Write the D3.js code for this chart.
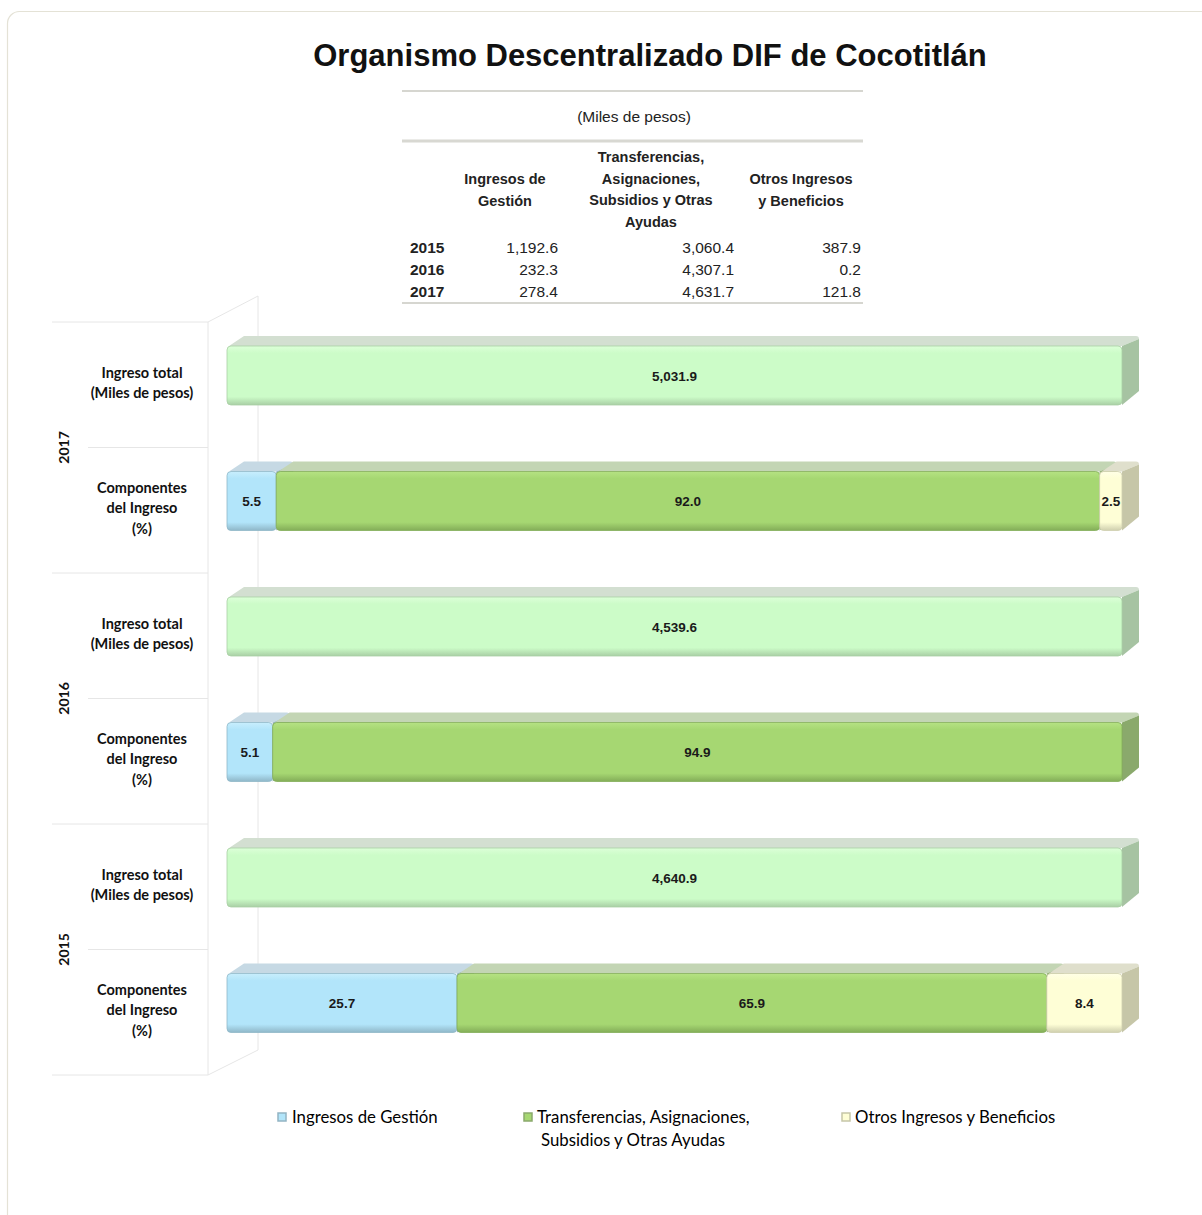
<!DOCTYPE html>
<html>
<head>
<meta charset="utf-8">
<script src="https://cdn.jsdelivr.net/npm/d3@7"></script>
<style>
  body { margin: 0; background: #fff; }
  svg { display: block; }
</style>
</head>
<body>
<svg id="chart" width="1202" height="1215"></svg>
<script>
// table data (miles de pesos)
const tableYears = ["2015", "2016", "2017"];
const gestion = [1192.6, 232.3, 278.4];
const transferencias = [3060.4, 4307.1, 4631.7];
const otros = [387.9, 0.2, 121.8];
const tableHeaders = [
  ["Ingresos de", "Gestión"],
  ["Transferencias,", "Asignaciones,", "Subsidios y Otras", "Ayudas"],
  ["Otros Ingresos", "y Beneficios"]
];

// bar data, top to bottom
const years = ["2017", "2016", "2015"];
const totals = [5031.9, 4539.6, 4640.9];
const gestionPct = [5.5, 5.1, 25.7];
const transfPct = [92.0, 94.9, 65.9];
const otrosPct = [2.5, 0.0, 8.4];

const rowTotal = ["Ingreso total", "(Miles de pesos)"];
const rowComp = ["Componentes", "del Ingreso", "(%)"];
const legendNames = [["Ingresos de Gestión"], ["Transferencias, Asignaciones,", "Subsidios y Otras Ayudas"], ["Otros Ingresos y Beneficios"]];

const svg = d3.select("#chart");
const labelFont = "Lato, 'Open Sans', sans-serif";
const arial = "'Liberation Sans', Arial, sans-serif";
const narrow = "'Liberation Sans Narrow', 'Liberation Sans', Arial, sans-serif";

// frame
svg.append("rect").attr("x", 7.5).attr("y", 11.5).attr("width", 1210).attr("height", 1215)
  .attr("rx", 12).attr("fill", "#fff").attr("stroke", "#e4e2d6").attr("stroke-width", 1.2);

svg.append("text").attr("x", 650).attr("y", 66).attr("text-anchor", "middle")
  .attr("font-family", arial).attr("font-weight", "bold").attr("font-size", 31).attr("fill", "#111")
  .text("Organismo Descentralizado DIF de Cocotitlán");

// ---- table ----
const tb = svg.append("g");
tb.append("line").attr("x1", 402).attr("x2", 863).attr("y1", 91).attr("y2", 91).attr("stroke", "#d6d6d0").attr("stroke-width", 2);
tb.append("line").attr("x1", 402).attr("x2", 863).attr("y1", 141).attr("y2", 141).attr("stroke", "#d8d8d2").attr("stroke-width", 3);
tb.append("line").attr("x1", 402).attr("x2", 863).attr("y1", 303).attr("y2", 303).attr("stroke", "#d6d6d0").attr("stroke-width", 2);
tb.append("text").attr("x", 634).attr("y", 122).attr("text-anchor", "middle")
  .attr("font-family", arial).attr("font-size", 15.5).attr("fill", "#222").text("(Miles de pesos)");

const colCenters = [505, 651, 801];
const colRights = [558, 734, 861];
tableHeaders.forEach((lines, i) => {
  lines.forEach((l, j) => {
    tb.append("text").attr("x", colCenters[i])
      .attr("y", (lines.length === 4 ? 162 : 184) + j * 21.5)
      .attr("text-anchor", "middle").attr("font-family", arial).attr("font-weight", "bold")
      .attr("font-size", 14.5).attr("fill", "#222").text(l);
  });
});
const fmt = d3.format(",.1f");
tableYears.forEach((yr, i) => {
  const y = 253 + i * 22;
  tb.append("text").attr("x", 410).attr("y", y).attr("font-family", arial).attr("font-weight", "bold")
    .attr("font-size", 15.5).attr("fill", "#222").text(yr);
  [gestion, transferencias, otros].forEach((arr, c) => {
    tb.append("text").attr("x", colRights[c]).attr("y", y).attr("text-anchor", "end")
      .attr("font-family", arial).attr("font-size", 15.5).attr("fill", "#222").text(fmt(arr[i]));
  });
});

// ---- chart ----
const rows = [];
years.forEach((yr, i) => {
  rows.push({ key: yr + "-t", year: yr, kind: "total", segs: [{ v: 100, c: "total", label: fmt(totals[i]) }] });
  rows.push({ key: yr + "-c", year: yr, kind: "comp", segs: [
    { v: gestionPct[i], c: "blue" }, { v: transfPct[i], c: "green" }, { v: otrosPct[i], c: "yellow" }
  ].map(s => ({ ...s, label: s.v > 0 ? s.v.toFixed(1) : "" })) });
});

const y = d3.scaleBand().domain(rows.map(r => r.key)).range([322, 1075]);
const x = d3.scaleLinear().domain([0, 100]).range([227, 1122]);
const barTop = 24, barH = 59, dx = 17, dy = 10;

const colors = {
  total: { front: "#ccfcc8", light: "#dcffd8", dark: "#a9cfa5", top: "#d3dfd1", side: "#a6c3a2" },
  blue: { front: "#b2e5fa", light: "#c8eefd", dark: "#8fb7c8", top: "#c6d9e4", side: "#93b4c3" },
  green: { front: "#a6d772", light: "#b5e283", dark: "#83ad58", top: "#c3d5b4", side: "#8aa96c" },
  yellow: { front: "#fefed6", light: "#ffffe6", dark: "#cfcfae", top: "#dfdfcc", side: "#c6c6a8" }
};

const defs = svg.append("defs");
Object.entries(colors).forEach(([k, c]) => {
  const g = defs.append("linearGradient").attr("id", "g-" + k).attr("x1", 0).attr("x2", 0).attr("y1", 0).attr("y2", 1);
  g.append("stop").attr("offset", "0%").attr("stop-color", c.light);
  g.append("stop").attr("offset", "12%").attr("stop-color", c.front);
  g.append("stop").attr("offset", "86%").attr("stop-color", c.front);
  g.append("stop").attr("offset", "100%").attr("stop-color", c.dark);
});

// wall and grid lines of the category axis
const grid = svg.append("g").attr("stroke", "#e6e6e6").attr("stroke-width", 1).attr("fill", "none");
grid.append("line").attr("x1", 258).attr("x2", 258).attr("y1", 296).attr("y2", 1050);
grid.append("line").attr("x1", 208).attr("x2", 208).attr("y1", 322).attr("y2", 1075);
grid.append("line").attr("x1", 208).attr("x2", 258).attr("y1", 322).attr("y2", 296);
grid.append("line").attr("x1", 208).attr("x2", 258).attr("y1", 1075).attr("y2", 1050);
rows.forEach(r => {
  const yy = y(r.key);
  grid.append("line").attr("x1", r.kind === "total" ? 52 : 88).attr("x2", 208).attr("y1", yy).attr("y2", yy);
});
grid.append("line").attr("x1", 52).attr("x2", 208).attr("y1", 1075).attr("y2", 1075);

// bars
const bars = svg.append("g");
rows.forEach(r => {
  let acc = 0;
  const y0 = y(r.key) + barTop, y1 = y0 + barH;
  r.segs.forEach(s => {
    if (s.v <= 0) return;
    const x0 = x(acc), x1 = x(acc + s.v);
    acc += s.v;
    const c = colors[s.c];
    const g = bars.append("g");
    g.append("path").attr("fill", c.top)
      .attr("d", `M${x0 + 2},${y0} L${x0 + dx},${y0 - dy} L${x1 + dx - 3},${y0 - dy} Q${x1 + dx},${y0 - dy} ${x1 + dx},${y0 - dy + 3} L${x1},${y0} Z`);
    g.append("path").attr("fill", c.side)
      .attr("d", `M${x1},${y0} L${x1 + dx},${y0 - dy + 3} L${x1 + dx},${y1 - dy - 4} L${x1},${y1} Z`);
    g.append("rect").attr("x", x0).attr("y", y0).attr("width", Math.max(0, x1 - x0)).attr("height", barH)
      .attr("rx", 4).attr("fill", `url(#g-${s.c})`).attr("stroke", c.dark).attr("stroke-width", 0.8);
    if (s.label) {
      g.append("text").attr("x", (x0 + x1) / 2).attr("y", y0 + barH / 2 + 5).attr("text-anchor", "middle")
        .attr("font-family", narrow).attr("font-weight", "bold").attr("font-size", 13.5).attr("fill", "#1a1a1a")
        .text(s.label);
    }
  });
});

// category labels
rows.forEach(r => {
  const lines = r.kind === "total" ? rowTotal : rowComp;
  const cy = y(r.key) + y.bandwidth() / 2 - 2;
  lines.forEach((l, j) => {
    svg.append("text").attr("x", 142).attr("y", cy + (j - (lines.length - 1) / 2) * 20.5 + 5)
      .attr("text-anchor", "middle").attr("font-family", labelFont).attr("font-weight", "bold")
      .attr("font-size", 14.5).attr("fill", "#111").text(l);
  });
});
years.forEach(yr => {
  const cy = y(yr + "-c");
  svg.append("text").attr("transform", `translate(69,${cy}) rotate(-90)`).attr("text-anchor", "middle")
    .attr("font-family", labelFont).attr("font-weight", "bold").attr("font-size", 14).attr("fill", "#111").text(yr);
});

// legend
const legX = [[278, 292], [524, 537], [842, 855]];
const legKeys = ["blue", "green", "yellow"];
legendNames.forEach((lines, i) => {
  const c = colors[legKeys[i]];
  svg.append("rect").attr("x", legX[i][0]).attr("y", 1113).attr("width", 8).attr("height", 8)
    .attr("fill", c.front).attr("stroke", c.side).attr("stroke-width", 1.5);
  lines.forEach((l, j) => {
    svg.append("text").attr("x", legX[i][1] + (j > 0 ? 4 : 0)).attr("y", 1123 + j * 23)
      .attr("font-family", labelFont).attr("font-size", 16.8).attr("fill", "#000").text(l);
  });
});
</script>
</body>
</html>
